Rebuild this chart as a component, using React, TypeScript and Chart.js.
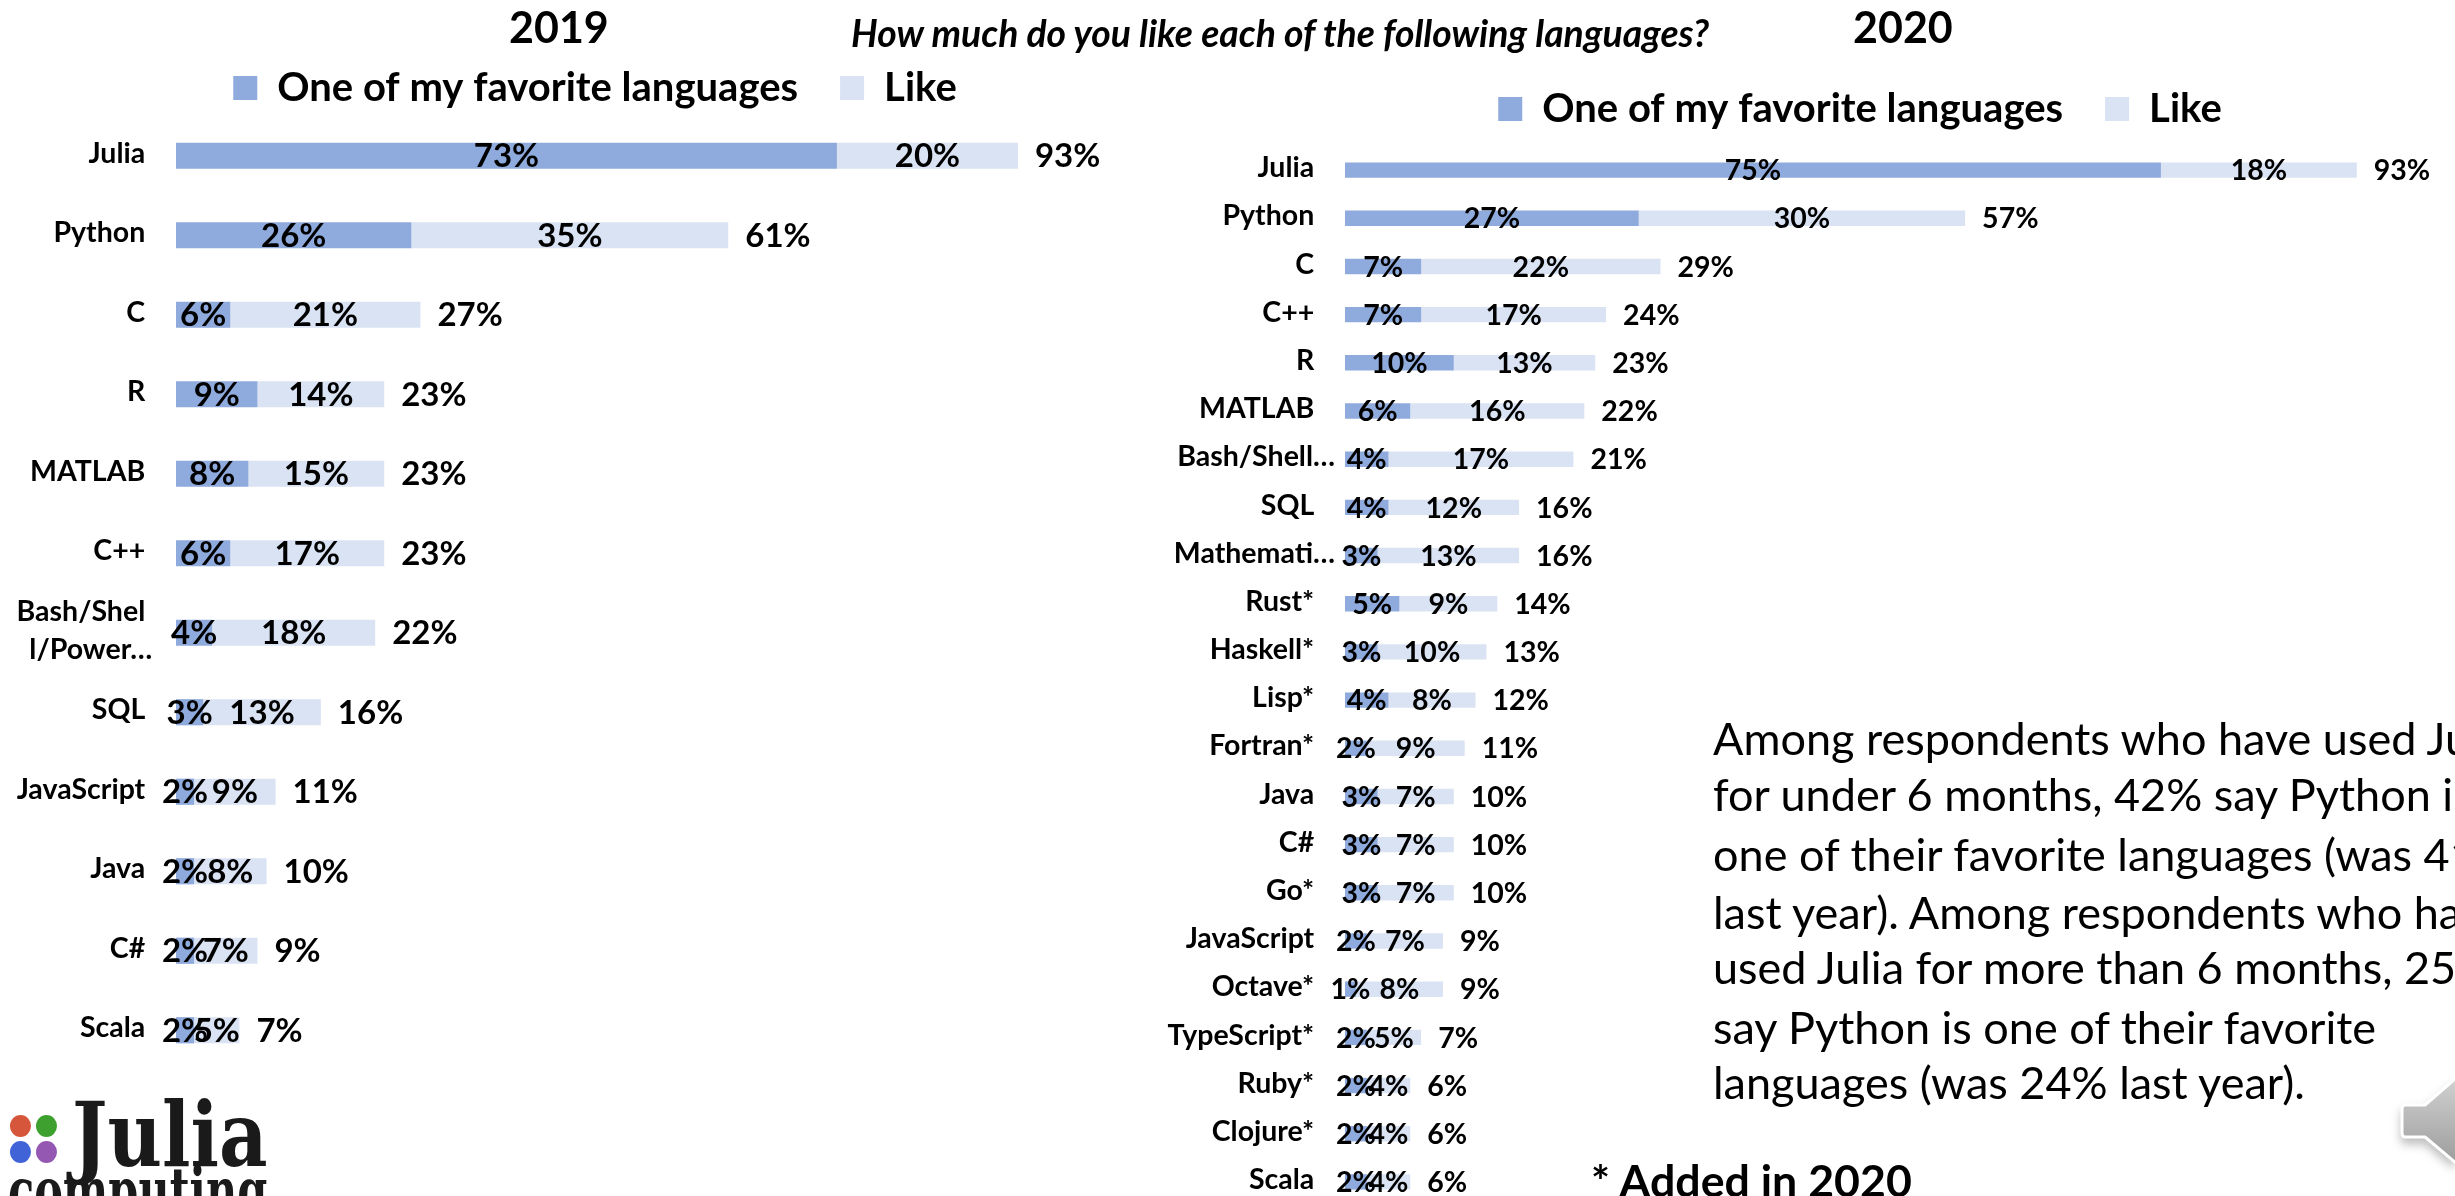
import React, { useEffect, useRef } from "react";
import { Chart, registerables } from "chart.js";

Chart.register(...registerables);

const DARK = "#8FAADC";
const LIGHT = "#DAE3F3";
const FONT = "Lato";

const seriesNames = ["One of my favorite languages", "Like"];

const categories2019 = ["Julia", "Python", "C", "R", "MATLAB", "C++", "Bash/Shell/Power…", "SQL", "JavaScript", "Java", "C#", "Scala"];
const favorite2019 = [73, 26, 6, 9, 8, 6, 4, 3, 2, 2, 2, 2];
const like2019 = [20, 35, 21, 14, 15, 17, 18, 13, 9, 8, 7, 5];
const total2019 = [93, 61, 27, 23, 23, 23, 22, 16, 11, 10, 9, 7];

const categories2020 = ["Julia", "Python", "C", "C++", "R", "MATLAB", "Bash/Shell…", "SQL", "Mathemati…", "Rust*", "Haskell*", "Lisp*", "Fortran*", "Java", "C#", "Go*", "JavaScript", "Octave*", "TypeScript*", "Ruby*", "Clojure*", "Scala"];
const favorite2020 = [75, 27, 7, 7, 10, 6, 4, 4, 3, 5, 3, 4, 2, 3, 3, 3, 2, 1, 2, 2, 2, 2];
const like2020 = [18, 30, 22, 17, 13, 16, 17, 12, 13, 9, 10, 8, 9, 7, 7, 7, 7, 8, 5, 4, 4, 4];
const total2020 = [93, 57, 29, 24, 23, 22, 21, 16, 16, 14, 13, 12, 11, 10, 10, 10, 9, 9, 7, 6, 6, 6];

const noteLines = [
  "Among respondents who have used Julia",
  "for under 6 months, 42% say Python is",
  "one of their favorite languages (was 41%",
  "last year). Among respondents who have",
  "used Julia for more than 6 months, 25%",
  "say Python is one of their favorite",
  "languages (was 24% last year).",
];
const noteTops = [716, 772, 832, 890, 945, 1005, 1060];

type Cfg = {
  categories: string[];
  favorite: number[];
  like: number[];
  total: number[];
  axisWidth: number;
  xMax: number;
  labelSize: number;
  tickSize: number;
  legendTop: number;
  legendHeight: number;
  barPct: number;
  tickLabel: (s: string) => string | string[];
};

function percentLabels(total: number[], size: number, gap: number) {
  return {
    id: "percentLabels",
    afterDatasetsDraw(chart: any) {
      const { ctx, scales } = chart;
      ctx.save();
      ctx.fillStyle = "#000";
      ctx.font = `bold ${size}px ${FONT}`;
      ctx.textBaseline = "middle";
      ctx.textAlign = "center";
      chart.data.datasets.forEach((ds: any, i: number) => {
        chart.getDatasetMeta(i).data.forEach((bar: any, j: number) => {
          const c = bar.getCenterPoint();
          ctx.fillText(`${ds.data[j]}%`, c.x, c.y + 1);
        });
      });
      ctx.textAlign = "left";
      total.forEach((t, j) => {
        const y = scales.y.getPixelForValue(j);
        ctx.fillText(`${t}%`, scales.x.getPixelForValue(t) + gap, y + 1);
      });
      ctx.restore();
    },
  };
}

// Fixes the height the legend reserves, so the plot starts where it should.
function legendFit(height: number) {
  return {
    id: "legendFit",
    beforeUpdate(chart: any) {
      const legend = chart.legend;
      if (legend && !legend._fitPatched) {
        const orig = legend.fit;
        legend.fit = function () {
          orig.call(this);
          this.height = height;
        };
        legend._fitPatched = true;
      }
    },
  };
}

function StackedChart({ cfg, style }: { cfg: Cfg; style: React.CSSProperties }) {
  const ref = useRef<HTMLCanvasElement>(null);
  useEffect(() => {
    const chart = new Chart(ref.current!, {
      type: "bar",
      data: {
        labels: cfg.categories,
        datasets: [
          { label: seriesNames[0], data: cfg.favorite, backgroundColor: DARK, barPercentage: cfg.barPct, categoryPercentage: 1 },
          { label: seriesNames[1], data: cfg.like, backgroundColor: LIGHT, barPercentage: cfg.barPct, categoryPercentage: 1 },
        ],
      },
      options: {
        indexAxis: "y",
        animation: false,
        responsive: false,
        layout: { padding: { top: cfg.legendTop, left: 0, right: 0, bottom: 0 } },
        plugins: {
          title: { display: false },
          tooltip: { enabled: false },
          legend: {
            display: true,
            position: "top",
            labels: {
              boxWidth: 24,
              boxHeight: 24,
              padding: 42,
              color: "#000",
              font: { family: FONT, weight: "bold", size: 40 },
            },
          },
        },
        scales: {
          x: { stacked: true, min: 0, max: cfg.xMax, display: false, grid: { display: false } },
          y: {
            stacked: true,
            grid: { display: false },
            border: { display: false },
            afterFit: (s: any) => {
              s.width = cfg.axisWidth;
              s.paddingTop = 0;
              s.paddingBottom = 0;
            },
            ticks: {
              color: "#000",
              padding: 2,
              labelOffset: -2,
              autoSkip: false,
              font: { family: FONT, weight: "bold", size: cfg.tickSize, lineHeight: 1.33 },
              callback(this: any, v: any) {
                return cfg.tickLabel(this.getLabelForValue(v));
              },
            },
          },
        },
      },
      plugins: [legendFit(cfg.legendHeight), percentLabels(cfg.total, cfg.labelSize, 17)],
    } as any);
    return () => chart.destroy();
  }, []);
  return <canvas ref={ref} style={{ position: "absolute", display: "block", ...style }} width={style.width as number} height={style.height as number} />;
}

const cfg2019: Cfg = {
  categories: categories2019, favorite: favorite2019, like: like2019, total: total2019,
  axisWidth: 176, xMax: 112, labelSize: 33, tickSize: 28.5, legendTop: 26, legendHeight: 90, barPct: 0.33,
  tickLabel: (s) => (s.startsWith("Bash") ? ["Bash/Shel   ", "l/Power…  "] : s + "   "),
};
const cfg2020: Cfg = {
  categories: categories2020, favorite: favorite2020, like: like2020, total: total2020,
  axisWidth: 195, xMax: 112.6, labelSize: 28.5, tickSize: 28.5, legendTop: 47, legendHeight: 99, barPct: 0.32,
  tickLabel: (s) => (s.endsWith("…") ? s : s + "   "),
};

const abs = (o: React.CSSProperties): React.CSSProperties => ({ position: "absolute", whiteSpace: "pre", fontFamily: FONT, color: "#000", lineHeight: 1, ...o });
const dot = (left: number, top: number, background: string): React.CSSProperties => ({ position: "absolute", left, top, width: 21, height: 22, borderRadius: "50%", background });

export default function App() {
  return (
    <div style={{ position: "absolute", left: 0, top: 0, width: 2455, height: 1196, overflow: "hidden", background: "#fff" }}>
      <StackedChart cfg={cfg2019} style={{ left: 0, top: 0, width: 1190, height: 1070 }} />
      <StackedChart cfg={cfg2020} style={{ left: 1150, top: 0, width: 1420, height: 1206 }} />
      <div style={abs({ left: 509, top: 5, fontSize: 43, fontWeight: 700 })}>2019</div>
      <div style={abs({ left: 1853, top: 5, fontSize: 43, fontWeight: 700 })}>2020</div>
      <div style={abs({ left: 851, top: 14, fontSize: 37.3, fontWeight: 700, fontStyle: "italic" })}>How much do you like each of the following languages?</div>
      {noteLines.map((t, i) => (
        <div key={i} style={abs({ left: 1713, top: noteTops[i], fontSize: 45 })}>{t}</div>
      ))}
      <div style={abs({ left: 1591, top: 1158, fontSize: 44.7, fontWeight: 700 })}>* Added in 2020</div>
      <div style={dot(10, 1115, "#D5563A")} />
      <div style={dot(36, 1115, "#3DA02F")} />
      <div style={dot(10, 1141, "#4063D8")} />
      <div style={dot(36, 1141, "#9558B2")} />
      <div style={abs({ left: 72, top: 1090, fontSize: 75, fontWeight: 700, fontFamily: "DejaVu Serif", color: "#1a1a1a", transform: "scaleY(1.2)", transformOrigin: "left top" })}>Julia</div>
      <div style={abs({ left: 8, top: 1160, fontSize: 43, fontWeight: 700, fontFamily: "DejaVu Serif", color: "#1a1a1a", transform: "scaleY(1.5)", transformOrigin: "left top" })}>computing</div>
      <svg width={100} height={146} viewBox="2355 1050 100 146" style={{ position: "absolute", left: 2355, top: 1050, filter: "drop-shadow(0 6px 5px rgba(0,0,0,0.25))" }}>
        <defs>
          <linearGradient id="arrowFill" x1="0" y1="0" x2="0" y2="1">
            <stop offset="0" stopColor="#D4D4D4" />
            <stop offset="1" stopColor="#9A9A9A" />
          </linearGradient>
        </defs>
        <path d="M2405 1105 L2425 1105 L2462 1073 L2462 1168 L2425 1137 L2405 1137 Q2402 1137 2402 1132 L2402 1110 Q2402 1105 2405 1105 Z" fill="url(#arrowFill)" stroke="#fff" strokeWidth={3} strokeLinejoin="round" />
      </svg>
    </div>
  );
}
